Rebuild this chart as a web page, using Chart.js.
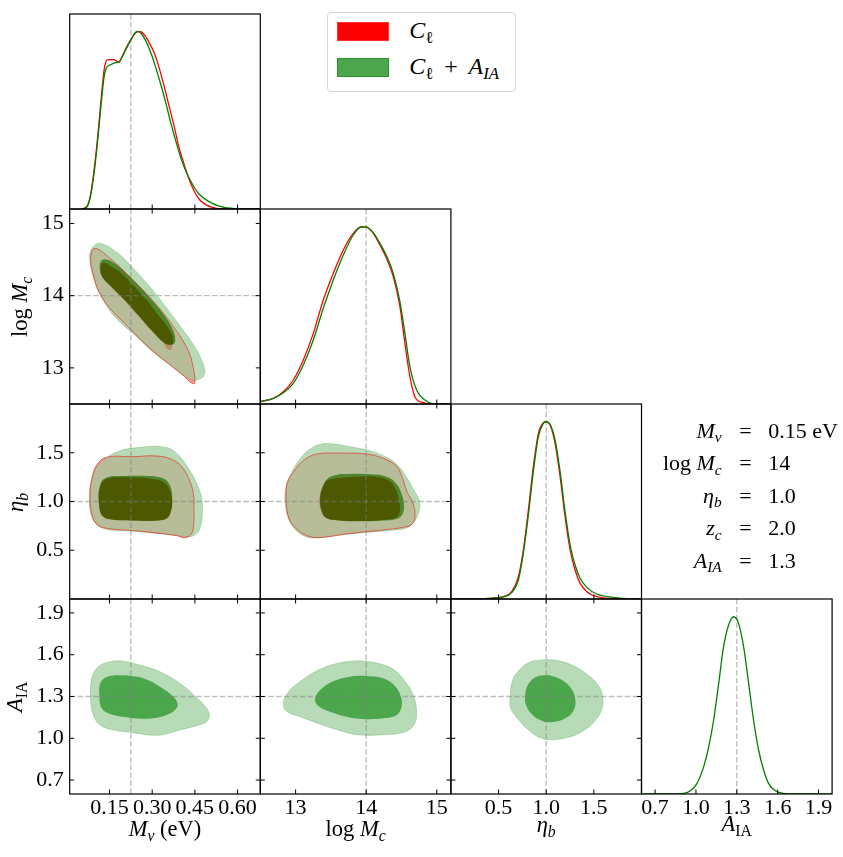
<!DOCTYPE html>
<html><head><meta charset="utf-8">
<script src="https://cdn.jsdelivr.net/npm/chart.js@4.4.1/dist/chart.umd.min.js"></script>
<style>
html,body{margin:0;padding:0;background:#fff;}
#wrap{position:relative;width:843px;height:857px;overflow:hidden;font-family:'Liberation Serif',serif;background:#fff;}
canvas{position:absolute;left:0;top:0;}
.t{position:absolute;white-space:nowrap;line-height:1;color:#000;font-family:'Liberation Serif',serif;}
.sb{font-size:70%;position:relative;top:0.3em;}
</style></head><body><div id="wrap"></div>
<script>
// ---------- axis ranges, ticks, fiducial values ----------
const mnuRange=[0.01,0.68], logMcRange=[12.5,15.2], etaRange=[0,2], aiaRange=[0.6,2.0], pdfRange=[0,1.1];
const mnuTicks=[0.15,0.30,0.45,0.60], logMcTicks=[13,14,15], etaTicks=[0.5,1.0,1.5], aiaTicks=[0.7,1.0,1.3,1.6,1.9];
const mnuTickLabels=['0.15','0.30','0.45','0.60'], logMcTickLabels=['13','14','15'], etaTickLabels=['0.5','1.0','1.5'], aiaTickLabels=['0.7','1.0','1.3','1.6','1.9'];
const fiducial=[0.225,14,1.0,1.3];

// ---------- 1D marginal posteriors (x, normalized density) ----------
const mnuRed=[[0.0544,0],[0.0720,0.0188],[0.0837,0.0846],[0.0954,0.2162],[0.1071,0.3855],[0.1189,0.5923],[0.1306,0.7803],[0.1364,0.8273],[0.1458,0.8424],[0.1657,0.8424],[0.1774,0.8311],[0.1833,0.8273],[0.1950,0.8630],[0.2126,0.9213],[0.2301,0.9684],[0.2477,1.0],[0.2595,1.0],[0.2747,0.9778],[0.2887,0.9402],[0.3063,0.8837],[0.3239,0.7991],[0.3415,0.6957],[0.3590,0.5829],[0.3766,0.4701],[0.3942,0.3479],[0.4118,0.2538],[0.4293,0.1692],[0.4469,0.1034],[0.4645,0.0564],[0.4879,0.0244],[0.5113,0.0094],[0.5465,0],[0.68,0]];
const mnuGreen=[[0.0544,0],[0.0720,0.015],[0.0837,0.0752],[0.0954,0.1974],[0.1071,0.3667],[0.1189,0.5641],[0.1306,0.7427],[0.1388,0.7954],[0.1540,0.8142],[0.1716,0.8255],[0.1833,0.8292],[0.1950,0.8593],[0.2126,0.9157],[0.2301,0.9684],[0.2419,0.9966],[0.2512,1.0022],[0.2630,0.9872],[0.2770,0.9496],[0.2946,0.8837],[0.3122,0.7991],[0.3298,0.7051],[0.3473,0.6017],[0.3649,0.4889],[0.3825,0.3855],[0.4001,0.2914],[0.4176,0.2162],[0.4410,0.1410],[0.4645,0.0846],[0.4996,0.0414],[0.5348,0.0169],[0.5817,0.0038],[0.6168,0],[0.68,0]];
const logMcRed=[[12.5,0.0132],[12.6845,0.032],[12.826,0.0696],[12.9677,0.1354],[13.1092,0.2482],[13.2508,0.3986],[13.3924,0.5867],[13.534,0.7371],[13.6755,0.8687],[13.8171,0.9627],[13.9352,1.0],[14.006,0.998],[14.1003,0.9627],[14.1947,0.8969],[14.2891,0.8217],[14.3835,0.7183],[14.4779,0.549],[14.5487,0.3422],[14.6195,0.1542],[14.6903,0.0414],[14.8082,0.0075],[14.9498,0],[15.2,0]];
const logMcGreen=[[12.5,0.0132],[12.6845,0.032],[12.826,0.0639],[12.9677,0.1166],[13.1092,0.22],[13.2508,0.361],[13.3924,0.5397],[13.534,0.6995],[13.6755,0.8405],[13.8171,0.9533],[13.9352,1.0],[14.006,0.998],[14.1003,0.9665],[14.1947,0.9063],[14.2891,0.8349],[14.3835,0.7371],[14.4779,0.5773],[14.5487,0.3986],[14.6195,0.2106],[14.7139,0.079],[14.8318,0.0226],[14.997,0],[15.2,0]];
const etaRed=[[0,0],[0.41,0.0038],[0.55,0.0132],[0.638,0.0414],[0.708,0.126],[0.76,0.2764],[0.813,0.502],[0.865,0.7465],[0.918,0.9345],[0.97,0.9947],[0.998,1.0],[1.04,0.9815],[1.093,0.8781],[1.146,0.6901],[1.198,0.4644],[1.251,0.2764],[1.303,0.1636],[1.356,0.0884],[1.426,0.0414],[1.531,0.0132],[1.706,0.0019],[2.0,0]];
const etaGreen=[[0,0],[0.41,0.0038],[0.55,0.0113],[0.638,0.0357],[0.708,0.1072],[0.76,0.2576],[0.813,0.4738],[0.865,0.7183],[0.918,0.9157],[0.97,0.9909],[0.998,1.0],[1.04,0.9872],[1.093,0.8969],[1.146,0.7183],[1.198,0.4926],[1.251,0.3046],[1.303,0.1918],[1.356,0.1166],[1.426,0.0658],[1.531,0.0282],[1.706,0.0094],[1.846,0.0019],[2.0,0]];
const aiaGreen=[[0.6,0],[0.837,0],[0.91,0.0038],[0.959,0.0188],[1.008,0.0602],[1.057,0.1542],[1.094,0.267],[1.13,0.4174],[1.167,0.6243],[1.203,0.8311],[1.24,0.9533],[1.277,1.0],[1.313,0.9627],[1.35,0.8311],[1.387,0.6243],[1.423,0.4174],[1.46,0.2482],[1.497,0.1354],[1.533,0.0602],[1.582,0.0188],[1.643,0.0038],[1.717,0],[2.0,0]];

// ---------- 2D contours (68% inner, 95% outer) ----------
// M_nu vs log M_c
const mnuLogMcRedOuter=[[0.2618,14.102],[0.3204,13.848],[0.3790,13.548],[0.4258,13.248],[0.4434,13.017],[0.4493,12.786],[0.4317,12.809],[0.4141,12.878],[0.3555,13.063],[0.2852,13.294],[0.2149,13.571],[0.1563,13.802],[0.1153,14.032],[0.0919,14.309],[0.0837,14.540],[0.0978,14.655],[0.1446,14.540],[0.2032,14.332]];
const mnuLogMcRedInner=[[0.2384,14.125],[0.2852,13.917],[0.3262,13.709],[0.3614,13.525],[0.3743,13.386],[0.3696,13.294],[0.3649,13.248],[0.3497,13.271],[0.3415,13.340],[0.2946,13.525],[0.2477,13.732],[0.2009,13.940],[0.1563,14.115],[0.1259,14.254],[0.1188,14.365],[0.1270,14.457],[0.1563,14.400],[0.1915,14.309]];
const mnuLogMcGreenOuter=[[0.2501,14.309],[0.3204,13.986],[0.3907,13.617],[0.4493,13.294],[0.4786,13.063],[0.4844,12.925],[0.4727,12.855],[0.4376,12.832],[0.3790,12.994],[0.3087,13.202],[0.2384,13.455],[0.1681,13.709],[0.1212,13.986],[0.0919,14.263],[0.0802,14.540],[0.0884,14.655],[0.1153,14.725],[0.1798,14.586]];
const mnuLogMcGreenInner=[[0.2618,14.102],[0.3087,13.894],[0.3497,13.686],[0.3731,13.525],[0.3813,13.386],[0.3731,13.326],[0.3438,13.340],[0.2969,13.525],[0.2501,13.732],[0.2032,13.940],[0.1563,14.125],[0.1235,14.263],[0.1153,14.378],[0.1188,14.471],[0.1329,14.503],[0.1681,14.448],[0.2149,14.286]];
// M_nu vs eta_b
const mnuEtaRedOuter=[[0.2337,1.4598],[0.3157,1.4667],[0.3684,1.4325],[0.4036,1.3573],[0.4305,1.2205],[0.4446,1.0838],[0.4469,0.9129],[0.4446,0.7248],[0.4352,0.6564],[0.4153,0.6291],[0.3860,0.6496],[0.3157,0.6769],[0.2337,0.7009],[0.1399,0.7248],[0.1048,0.7692],[0.0872,0.8786],[0.0814,1.0496],[0.0872,1.2205],[0.1048,1.3744],[0.1399,1.4530]];
const mnuEtaRedInner=[[0.2805,1.2410],[0.3391,1.2034],[0.3626,1.1111],[0.3696,0.9812],[0.3649,0.8786],[0.3509,0.8205],[0.3157,0.8060],[0.2337,0.8060],[0.1517,0.8150],[0.1224,0.8580],[0.1130,0.9812],[0.1153,1.1351],[0.1376,1.2308],[0.2102,1.2479]];
const mnuEtaGreenOuter=[[0.3157,1.5693],[0.3626,1.5419],[0.3977,1.4598],[0.4270,1.3402],[0.4563,1.1863],[0.4739,1.0325],[0.4762,0.8786],[0.4680,0.7248],[0.4504,0.6564],[0.4212,0.6393],[0.3743,0.6560],[0.3157,0.6720],[0.2337,0.6950],[0.1517,0.7080],[0.1107,0.7487],[0.0872,0.8444],[0.0790,1.0154],[0.0837,1.1863],[0.0989,1.3231],[0.1282,1.4256],[0.1868,1.5214],[0.2571,1.5556]];
const mnuEtaGreenInner=[[0.3040,1.2615],[0.3450,1.2274],[0.3649,1.1453],[0.3708,1.0154],[0.3661,0.9060],[0.3509,0.8274],[0.3157,0.8034],[0.2337,0.8034],[0.1517,0.8171],[0.1224,0.8615],[0.1130,0.9812],[0.1142,1.1351],[0.1341,1.2376],[0.2102,1.2615]];
// log M_c vs eta_b
const logMcEtaRedOuter=[[13.6284,1.4974],[14.0060,1.4872],[14.2420,1.4427],[14.4213,1.3675],[14.5015,1.2650],[14.5723,1.1111],[14.6667,0.9744],[14.6903,0.8376],[14.6431,0.7624],[14.5251,0.7350],[14.2891,0.7111],[14.0060,0.6906],[13.6756,0.6632],[13.3925,0.6325],[13.2037,0.6393],[13.0385,0.7009],[12.9205,0.8034],[12.8733,0.9402],[12.8639,1.0769],[12.8828,1.1966],[12.9677,1.2991],[13.1093,1.4188],[13.2981,1.4872]];
const logMcEtaRedInner=[[13.7228,1.2479],[14.0532,1.2581],[14.2891,1.2274],[14.4071,1.1453],[14.4637,1.0085],[14.4779,0.9060],[14.4307,0.8376],[14.2420,0.8103],[13.9116,0.7990],[13.6284,0.8050],[13.4161,0.8376],[13.3453,0.9402],[13.3453,1.0769],[13.4161,1.1966],[13.5105,1.2308]];
const logMcEtaGreenOuter=[[13.5812,1.5897],[13.8172,1.5556],[14.0532,1.5214],[14.2891,1.4530],[14.4543,1.3675],[14.5723,1.2479],[14.6667,1.1282],[14.7516,1.0085],[14.7516,0.9060],[14.6903,0.8034],[14.5723,0.7282],[14.2891,0.7009],[13.9116,0.6769],[13.5341,0.6462],[13.2509,0.6256],[13.0857,0.6598],[12.9677,0.7350],[12.8828,0.8547],[12.8498,1.0085],[12.8639,1.1453],[12.9441,1.2991],[13.0621,1.4359],[13.2037,1.5385],[13.3689,1.5897]];
const logMcEtaGreenInner=[[13.6284,1.2821],[14.0060,1.2821],[14.2891,1.2547],[14.4307,1.1795],[14.5015,1.0769],[14.5345,0.9744],[14.5157,0.8718],[14.4307,0.8205],[14.1948,0.8034],[13.9116,0.7966],[13.6284,0.8034],[13.4397,0.8274],[13.3689,0.9060],[13.3453,1.0256],[13.3830,1.1453],[13.4632,1.2410]];
// A_IA rows (green only)
const mnuAiaGreenOuter=[[0.2571,1.5261],[0.3274,1.4783],[0.3977,1.3945],[0.4563,1.2916],[0.4915,1.2150],[0.5008,1.1671],[0.4915,1.1193],[0.4563,1.0906],[0.3977,1.0595],[0.3450,1.0284],[0.3040,1.0212],[0.2337,1.0403],[0.1634,1.0595],[0.1165,1.0954],[0.0931,1.1671],[0.0837,1.2749],[0.0872,1.4304],[0.1107,1.5142],[0.1517,1.5501],[0.1927,1.5549]];
const mnuAiaGreenInner=[[0.2102,1.4519],[0.2688,1.4304],[0.3274,1.3706],[0.3743,1.2988],[0.3895,1.2462],[0.3801,1.2031],[0.3509,1.1671],[0.3040,1.1432],[0.2571,1.1408],[0.2102,1.1504],[0.1517,1.1743],[0.1224,1.2150],[0.1142,1.3108],[0.1200,1.4065],[0.1517,1.4472]];
const logMcAiaGreenOuter=[[13.8880,1.5573],[14.1003,1.5453],[14.3599,1.5022],[14.5345,1.4185],[14.6666,1.3108],[14.7138,1.1911],[14.6761,1.0954],[14.5345,1.0428],[14.2419,1.0260],[13.9116,1.0236],[13.6284,1.0547],[13.3452,1.1025],[13.0621,1.1552],[12.8827,1.1911],[12.8261,1.2389],[12.8827,1.3227],[13.0621,1.4065],[13.3452,1.4950],[13.6284,1.5429]];
const logMcAiaGreenInner=[[13.8172,1.4472],[14.0060,1.4472],[14.2419,1.4304],[14.4071,1.3754],[14.4920,1.2988],[14.5015,1.2270],[14.4307,1.1671],[14.2419,1.1432],[13.9588,1.1384],[13.7228,1.1552],[13.4868,1.1911],[13.3216,1.2318],[13.2744,1.2868],[13.3924,1.3658],[13.5812,1.4185]];
const etaAiaGreenOuter=[[0.9704,1.5645],[1.1106,1.5597],[1.2682,1.5262],[1.4259,1.4615],[1.5485,1.3778],[1.5940,1.2940],[1.5835,1.2078],[1.5134,1.1264],[1.3908,1.0546],[1.2332,1.0068],[1.0580,0.9900],[0.9354,1.0044],[0.8128,1.0594],[0.6972,1.1432],[0.6271,1.2150],[0.6201,1.2868],[0.6481,1.4184],[0.7252,1.4950],[0.8303,1.5477]];
const etaAiaGreenInner=[[1.0230,1.4544],[1.1526,1.4233],[1.2612,1.3587],[1.3067,1.2749],[1.2857,1.1983],[1.2016,1.1432],[1.0755,1.1169],[0.9529,1.1264],[0.8583,1.1671],[0.7953,1.2270],[0.7777,1.2988],[0.8128,1.3898],[0.9004,1.4424]];

// ---------- text ----------
const legendLabels=['<i>C</i><span class="sb">ℓ</span>','<i>C</i><span class="sb">ℓ</span>&thinsp; + &thinsp;<i>A</i><span class="sb"><i>IA</i></span>'];
const paramNames=['<i>M</i><span class="sb"><i>ν</i></span>','log <i>M</i><span class="sb"><i>c</i></span>','<i>η</i><span class="sb"><i>b</i></span>','<i>z</i><span class="sb"><i>c</i></span>','<i>A</i><span class="sb"><i>IA</i></span>'];
const paramValues=['0.15 eV','14','1.0','2.0','1.3'];
const xTitles=['<i>M</i><span class="sb"><i>ν</i></span> (eV)','log <i>M</i><span class="sb"><i>c</i></span>','<i>η</i><span class="sb"><i>b</i></span>','<i>A</i><span class="sb">IA</span>'];
const yTitles=['log <i>M</i><span class="sb"><i>c</i></span>','<i>η</i><span class="sb"><i>b</i></span>','<i>A</i><span class="sb">IA</span>'];

// ---------- layout ----------
const W=843,H=857;
const colL=[69.7,260.3,450.9,641.5], colW=190.6, rowT=[14,209,404,599], rowH=195;
const ranges=[mnuRange,logMcRange,etaRange,aiaRange];
const tickVals=[mnuTicks,logMcTicks,etaTicks,aiaTicks];
const tickLabels=[mnuTickLabels,logMcTickLabels,etaTickLabels,aiaTickLabels];
const tickFont={family:"'Liberation Serif', serif",size:22};
const wrap=document.getElementById('wrap');

const RED_OUT='rgb(255,153,153)', RED_IN='rgb(255,0,0)', GREEN_OUT='rgb(153,204,153)', GREEN_IN='rgb(0,128,0)';

function boxOf(r,c){return {l:colL[c],t:rowT[r],r:colL[c]+colW,b:rowT[r]+rowH};}
function newCanvas(op){const cv=document.createElement('canvas');cv.width=W;cv.height=H;cv.style.width=W+'px';cv.style.height=H+'px';if(op!==undefined)cv.style.opacity=op;wrap.appendChild(cv);return cv;}
function pts(a){return a.map(p=>({x:p[0],y:p[1]}));}
function closed(a){return pts(a.concat([a[0]]));}
function fillDs(a,color,order){return {data:closed(a),fill:'shape',backgroundColor:color,borderColor:'rgba(0,0,0,0)',borderWidth:0,tension:0.4,pointRadius:0,order};}
function outlineDs(a,color,w,order){return {data:closed(a),fill:false,borderColor:color,borderWidth:w,tension:0.4,pointRadius:0,order};}
function curveDs(a,color,order){return {data:pts(a),fill:false,borderColor:color,borderWidth:1.3,cubicInterpolationMode:'monotone',pointRadius:0,order};}
function dashDs(a,order){return {data:pts(a),fill:false,borderColor:'rgba(128,128,128,0.5)',borderWidth:1.4,borderDash:[5.5,2.4],pointRadius:0,tension:0,order};}

const framePlugin={id:'frame',afterDraw(chart,args,o){
  const {ctx,chartArea:a}=chart; const x=chart.scales.x, y=chart.scales.y; const L=4.5;
  ctx.save(); ctx.strokeStyle='#000'; ctx.lineWidth=1; ctx.beginPath();
  x.ticks.forEach(t=>{const p=x.getPixelForValue(t.value);ctx.moveTo(p,a.bottom);ctx.lineTo(p,a.bottom-L);if(o.all){ctx.moveTo(p,a.top);ctx.lineTo(p,a.top+L);}});
  if(o.all) y.ticks.forEach(t=>{const p=y.getPixelForValue(t.value);ctx.moveTo(a.left,p);ctx.lineTo(a.left+L,p);ctx.moveTo(a.right,p);ctx.lineTo(a.right-L,p);});
  ctx.stroke();
  ctx.lineWidth=1.2; ctx.strokeRect(a.left,a.top,a.right-a.left,a.bottom-a.top);
  ctx.restore();}};

function dataLayer(r,c,datasets,opacity){
  const b=boxOf(r,c); const cv=newCanvas(opacity);
  return new Chart(cv,{type:'line',data:{datasets},options:{
    responsive:false,animation:false,events:[],
    layout:{padding:{left:b.l,top:b.t,right:W-b.r,bottom:H-b.b}},
    plugins:{legend:{display:false},tooltip:{enabled:false}},
    scales:{x:{type:'linear',display:false,min:ranges[c][0],max:ranges[c][1]},
            y:{type:'linear',display:false,min:ranges[r][0],max:ranges[r][1]}}}});
}
function axisLayer(r,c,datasets){
  const b=boxOf(r,c); const diag=r===c; const cv=newCanvas();
  const yr=diag?pdfRange:ranges[r];
  return new Chart(cv,{type:'line',data:{datasets},plugins:[framePlugin],options:{
    responsive:false,animation:false,events:[],
    layout:{padding:{left:0,top:b.t,right:W-b.r,bottom:0}},
    plugins:{legend:{display:false},tooltip:{enabled:false},frame:{all:!diag}},
    scales:{
      x:{type:'linear',position:'bottom',min:ranges[c][0],max:ranges[c][1],
         grid:{display:false,drawTicks:false},border:{display:false},
         ticks:{display:r===3,font:tickFont,color:'#000',padding:1,maxRotation:0,minRotation:0,autoSkip:false,
                callback:(v,i)=>tickLabels[c][i]},
         afterBuildTicks:s=>{s.ticks=tickVals[c].map(v=>({value:v}));},
         afterFit:s=>{s.height=H-b.b;}},
      y:{type:'linear',position:'left',min:yr[0],max:yr[1],
         grid:{display:false,drawTicks:false},border:{display:false},
         ticks:{display:c===0&&!diag,font:tickFont,color:'#000',padding:6,autoSkip:false,
                callback:(v,i)=>diag?'':tickLabels[r][i]},
         afterBuildTicks:s=>{s.ticks=diag?[]:tickVals[r].map(v=>({value:v}));},
         afterFit:s=>{s.width=b.l;}}
    }}});
}
function vDash(r,c,order){const yr=r===c?pdfRange:ranges[r];return dashDs([[fiducial[c],yr[0]],[fiducial[c],yr[1]]],order);}
function hDash(r,c,order){return dashDs([[ranges[c][0],fiducial[r]],[ranges[c][1],fiducial[r]]],order);}

// ---------- diagonal panels ----------
axisLayer(0,0,[vDash(0,0,50),curveDs(mnuRed,'#ff0000',3),curveDs(mnuGreen,'#008000',2)]);
axisLayer(1,1,[vDash(1,1,50),curveDs(logMcRed,'#ff0000',3),curveDs(logMcGreen,'#008000',2)]);
axisLayer(2,2,[vDash(2,2,50),curveDs(etaRed,'#ff0000',3),curveDs(etaGreen,'#008000',2)]);
axisLayer(3,3,[vDash(3,3,50),curveDs(aiaGreen,'#008000',2)]);

// ---------- 2D panels ----------
function panel2D(r,c,redOuter,redInner,greenOuter,greenInner){
  if(redOuter) dataLayer(r,c,[fillDs(redOuter,RED_OUT,30),fillDs(redInner,RED_IN,29)]);
  dataLayer(r,c,[fillDs(greenOuter,GREEN_OUT,30),fillDs(greenInner,GREEN_IN,29)],0.7);
  const ds=[outlineDs(greenOuter,'rgba(0,128,0,0.25)',0.8,12)];
  if(redOuter) ds.push(outlineDs(redOuter,'rgba(255,0,0,0.6)',0.9,11));
  ds.push(vDash(r,c,1),hDash(r,c,1));
  axisLayer(r,c,ds);
}
panel2D(1,0,mnuLogMcRedOuter,mnuLogMcRedInner,mnuLogMcGreenOuter,mnuLogMcGreenInner);
panel2D(2,0,mnuEtaRedOuter,mnuEtaRedInner,mnuEtaGreenOuter,mnuEtaGreenInner);
panel2D(2,1,logMcEtaRedOuter,logMcEtaRedInner,logMcEtaGreenOuter,logMcEtaGreenInner);
panel2D(3,0,null,null,mnuAiaGreenOuter,mnuAiaGreenInner);
panel2D(3,1,null,null,logMcAiaGreenOuter,logMcAiaGreenInner);
panel2D(3,2,null,null,etaAiaGreenOuter,etaAiaGreenInner);

// ---------- text helpers ----------
const BASE=0.8375;
function htext(html,x,base,align,size){
  const d=document.createElement('div');d.className='t';d.style.fontSize=size+'px';d.innerHTML=html;wrap.appendChild(d);
  const w=d.getBoundingClientRect().width;const left=align==='left'?x:align==='right'?x-w:x-w/2;
  d.style.left=left+'px';d.style.top=(base-BASE*size)+'px';return d;}
function vtext(html,baseX,cy,size){
  const d=document.createElement('div');d.className='t';d.style.fontSize=size+'px';d.innerHTML=html;wrap.appendChild(d);
  const w=d.getBoundingClientRect().width;d.style.transformOrigin='0 0';d.style.transform='rotate(-90deg)';
  d.style.left=(baseX-BASE*size)+'px';d.style.top=(cy+w/2)+'px';return d;}
function rect(l,t,w,h,css){const d=document.createElement('div');d.style.cssText='position:absolute;box-sizing:border-box;left:'+l+'px;top:'+t+'px;width:'+w+'px;height:'+h+'px;'+css;wrap.appendChild(d);return d;}

// axis titles
const xTitleX=[165,355.6,546.2,736.8], xTitleBase=[837,837,833,832];
xTitles.forEach((s,i)=>htext(s,xTitleX[i],xTitleBase[i],'center',22.5));
const yTitleBaseX=[28,24,22.5], yTitleY=[306.5,502,696.5];
yTitles.forEach((s,i)=>vtext(s,yTitleBaseX[i],yTitleY[i],22.5));

// legend
rect(327.3,12.3,188.7,79.4,'background:#fff;border:1px solid #d4d4d4;border-radius:4px;');
rect(336.7,22.3,52.3,18.7,'background:#ff0000;border:1px solid #ff3030;');
rect(336.7,57.7,52.3,19,'background:rgb(77,166,77);border:1px solid rgb(40,150,40);');
htext(legendLabels[0],409.3,38.3,'left',24);
htext(legendLabels[1],409.3,74,'left',24);

// fiducial parameter table
const tableBase=[438.3,470.8,503.3,535.8,568.3];
paramNames.forEach((s,i)=>{
  htext(s,721.7,tableBase[i],'right',22);
  htext('=',745.5,tableBase[i],'center',22);
  htext(paramValues[i],768.3,tableBase[i],'left',22);
});
</script></body></html>
